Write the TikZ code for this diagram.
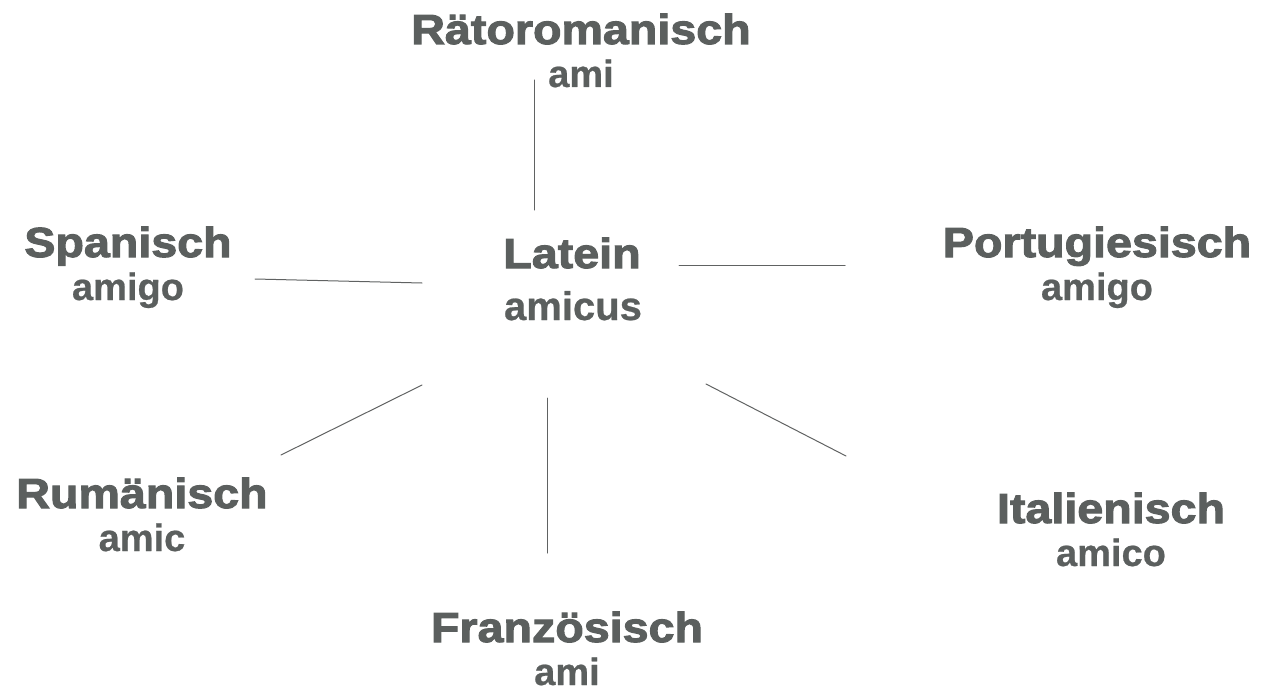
\documentclass[tikz,border=0pt]{standalone}
\usepackage{fontspec}
\setmainfont{Liberation Sans}
\newfontfamily\langfont{Liberation Sans}[FakeStretch=1.11,FakeBold=2.4]
\newfontfamily\wordfont{Liberation Sans}[FakeBold=0.6]
\definecolor{textgray}{RGB}{91,95,94}
\definecolor{linegray}{RGB}{96,98,98}
\begin{document}
\begin{tikzpicture}[x=1pt,y=-1pt,line cap=round,
	lang/.style={anchor=base,inner sep=0pt,text=textgray,font={\langfont\fontsize{42}{46}\selectfont\bfseries}},
	word/.style={anchor=base,inner sep=0pt,text=textgray,font={\wordfont\fontsize{38}{42}\selectfont\bfseries}},
	link/.style={draw=linegray,line width=1pt}]
			\useasboundingbox (0,0) rectangle (1261,693);
			\node[lang] (lat) at (572,268) {Latein};
			\node[word,font={\wordfont\fontsize{40}{44}\selectfont\bfseries}] (lat-w) at (573,320) {amicus};
			\foreach \n/\x/\y/\t/\w in {raet/581/44/Rätoromanisch/ami,span/128/257/Spanisch/amigo,port/1097/257/Portugiesisch/amigo,
				rum/142/508/Rumänisch/amic,ital/1111/523/Italienisch/amico,franz/567/642/Französisch/ami}
			{
				\node[lang] (\n) at (\x,\y) {\t};
				\node[word] (\n-w) at (\x,\y+43) {\w};
			}
			\coordinate (raet-a) at (534,80);   \coordinate (raet-b) at (534,210);
			\coordinate (span-a) at (255,279);  \coordinate (span-b) at (422,283);
			\coordinate (port-a) at (679,265);  \coordinate (port-b) at (845,265);
			\coordinate (rum-a) at (422,385);   \coordinate (rum-b) at (281,455);
			\coordinate (franz-a) at (547,398); \coordinate (franz-b) at (547,553);
			\coordinate (ital-a) at (706,384);  \coordinate (ital-b) at (846,456);
			\foreach \c in {raet,span,port,rum,franz,ital}
				\draw[link] (\c-a)--(\c-b);
		\end{tikzpicture}
\end{document}
